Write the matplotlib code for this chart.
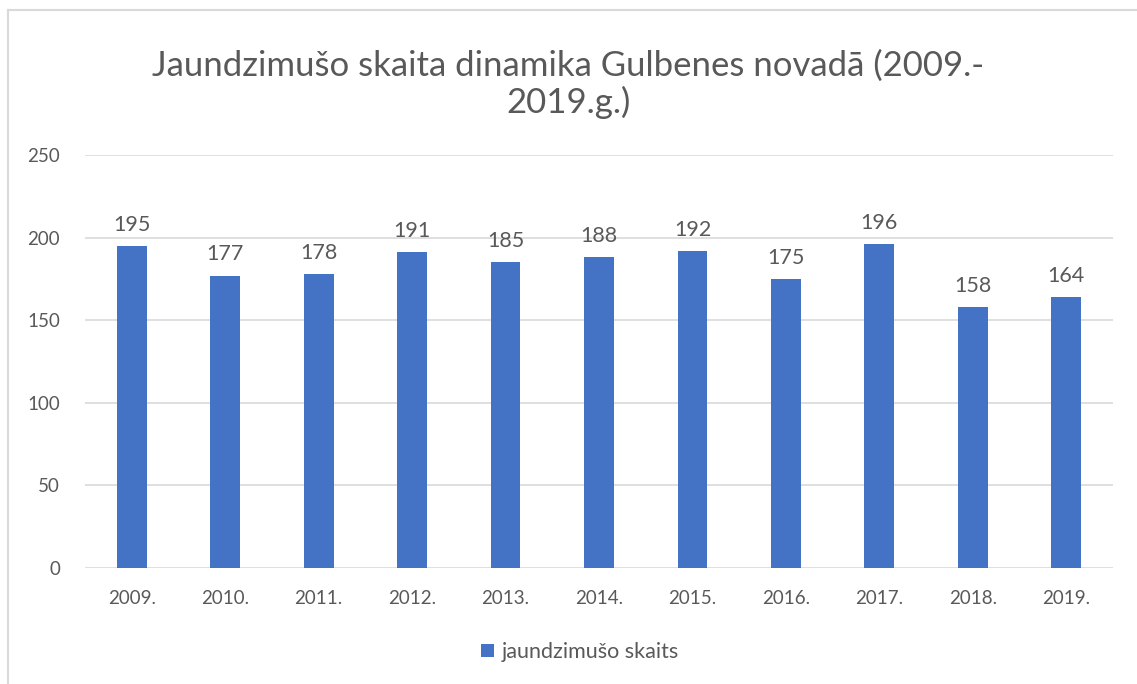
import matplotlib.pyplot as plt
from matplotlib.lines import Line2D

# data
years = ["2009.", "2010.", "2011.", "2012.", "2013.", "2014.",
         "2015.", "2016.", "2017.", "2018.", "2019."]
births = [195, 177, 178, 191, 185, 188, 192, 175, 196, 158, 164]
series_name = "jaundzimušo skaits"
title = "Jaundzimušo skaita dinamika Gulbenes novadā (2009.-\n2019.g.)"

plt.rcParams['font.family'] = ['Lato', 'DejaVu Sans']
text_col = "#595959"
bar_col = "#4472C4"
grid_col = "#d9d9d9"

fig = plt.figure(figsize=(11.37, 6.84), dpi=100)
ax = fig.add_axes([85 / 1137, 1 - 568 / 684, 1028 / 1137, 413 / 684])

x = range(len(years))
bars = ax.bar(x, births, width=0.32, color=bar_col, label=series_name)
ax.bar_label(bars, labels=[str(v) for v in births], padding=8,
             fontsize=15.5, color=text_col)

ax.set_xlim(-0.5, len(years) - 0.5)
ax.set_ylim(0, 250)
ax.set_yticks(range(0, 251, 50))
ax.set_xticks(list(x))
ax.set_xticklabels(years)
ax.tick_params(axis='both', length=0, labelsize=13.5, colors=text_col)
ax.tick_params(axis='x', pad=16)
ax.tick_params(axis='y', pad=18)
ax.grid(axis='y', color=grid_col, linewidth=1.2)
ax.set_axisbelow(True)
for s in ax.spines.values():
    s.set_visible(False)

fig.text(0.5, 1 - 84 / 684, title, ha='center', va='center',
         fontsize=25, color=text_col, linespacing=1.15)

leg = fig.legend(handles=[bars], labels=[series_name], loc='center',
                 bbox_to_anchor=(580 / 1137, 1 - 652 / 684), frameon=False,
                 fontsize=15.5, handlelength=0.6, handleheight=0.6,
                 handletextpad=0.35)
for t in leg.get_texts():
    t.set_color(text_col)

# chart area border (left and top visible)
fig.add_artist(Line2D([8 / 1137, 8 / 1137], [0, 1 - 10 / 684],
                      transform=fig.transFigure, color=grid_col, lw=1.5))
fig.add_artist(Line2D([8 / 1137, 1], [1 - 10 / 684, 1 - 10 / 684],
                      transform=fig.transFigure, color=grid_col, lw=1.5))

fig.savefig("out.png", dpi=100)
